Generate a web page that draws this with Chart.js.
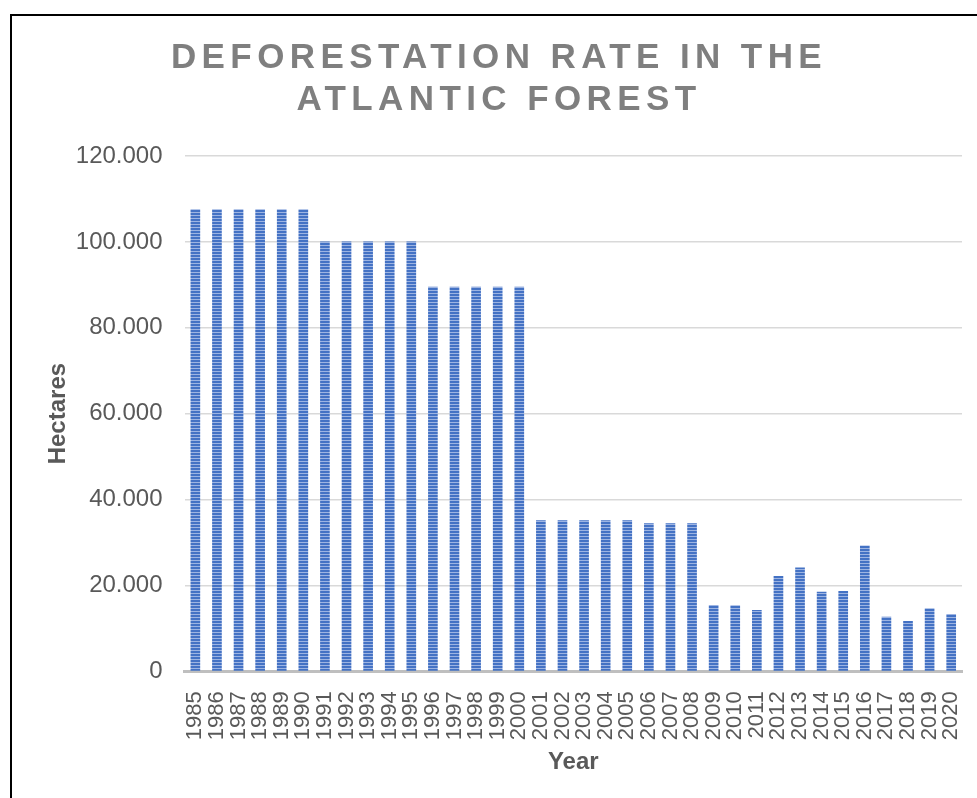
<!DOCTYPE html>
<html>
<head>
<meta charset="utf-8">
<script src="https://cdn.jsdelivr.net/npm/chart.js@4.4.1/dist/chart.umd.min.js"></script>
<style>
  body { margin: 0; background: #fff; overflow: hidden; }
  #wrap { position: relative; width: 977px; height: 798px; }
  #frame {
    position: absolute; left: 10px; top: 14px; width: 1000px; height: 1000px;
    border-left: 2px solid #000; border-top: 2px solid #000; pointer-events: none;
  }
  #chart { position: absolute; left: 0; top: 0; }
</style>
</head>
<body>
<div id="wrap">
  <div id="frame"></div>
  <canvas id="chart" width="977" height="798"></canvas>
</div>
<script>
"use strict";

const years = [
  "1985", "1986", "1987", "1988", "1989", "1990", "1991", "1992", "1993",
  "1994", "1995", "1996", "1997", "1998", "1999", "2000", "2001", "2002",
  "2003", "2004", "2005", "2006", "2007", "2008", "2009", "2010", "2011",
  "2012", "2013", "2014", "2015", "2016", "2017", "2018", "2019", "2020",
];
const hectares = [
  107500, 107500, 107500, 107500, 107500, 107500,
  100000, 100000, 100000, 100000, 100000,
  89500, 89500, 89500, 89500, 89500,
  35100, 35100, 35100, 35100, 35100,
  34400, 34400, 34400,
  15350, 15300, 14200, 22100, 24100, 18450, 18600, 29200,
  12600, 11600, 14600, 13250,
];
const yTicks = [0, 20000, 40000, 60000, 80000, 100000, 120000];

// striped fill like the original bars
function stripes() {
  const c = document.createElement("canvas");
  c.width = 4;
  c.height = 3;
  const g = c.getContext("2d");
  g.fillStyle = "#4472c4";
  g.fillRect(0, 0, 4, 2);
  g.fillStyle = "#9db4e2";
  g.fillRect(0, 2, 4, 1);
  return g.createPattern(c, "repeat");
}

const font = "'Liberation Sans', Arial, sans-serif";
const grey = "#595959";

const chart = new Chart(document.getElementById("chart"), {
  type: "bar",
  data: {
    labels: years,
    datasets: [
      {
        data: hectares,
        backgroundColor: stripes(),
        borderWidth: 0,
        barThickness: 9,
      },
    ],
  },
  options: {
    responsive: false,
    animation: false,
    layout: { padding: { left: 0, right: -21, top: 0, bottom: 14 } },
    plugins: {
      legend: { display: false },
      tooltip: { enabled: false },
      title: {
        display: true,
        text: ["DEFORESTATION RATE IN THE", "ATLANTIC FOREST"],
        color: "#7f7f7f",
        font: { family: font, size: 35, weight: "bold", lineHeight: 1.2 },
        padding: { top: 37, bottom: 35 },
      },
    },
    scales: {
      x: {
        // keep the plot reaching close to the right edge
        afterFit: (scale) => {
          scale.paddingRight = 15;
        },
        grid: { display: false, drawTicks: false },
        border: { color: "#bfbfbf", width: 3 },
        ticks: {
          color: grey,
          font: { family: font, size: 22 },
          minRotation: 90,
          maxRotation: 90,
          autoSkip: false,
          padding: 20,
        },
        title: {
          display: true,
          text: "Year",
          color: grey,
          font: { family: font, size: 24, weight: "bold" },
          padding: { top: -12, bottom: 7 },
        },
      },
      y: {
        min: 0,
        max: 120000,
        afterBuildTicks: (axis) => {
          axis.ticks = yTicks.map((v) => ({ value: v }));
        },
        grid: { color: "#d9d9d9", lineWidth: 1.5, drawTicks: false },
        border: { display: false },
        ticks: {
          color: grey,
          font: { family: font, size: 24 },
          padding: 22,
          callback: (v) => Number(v).toLocaleString("de-DE"),
        },
        title: {
          display: true,
          text: "Hectares",
          color: grey,
          font: { family: font, size: 24, weight: "bold" },
          padding: { top: 44, bottom: -19 },
        },
      },
    },
  },
});

// letter spacing on the title only
const titleBox = chart.titleBlock;
const drawTitle = titleBox.draw.bind(titleBox);
titleBox.draw = function (area) {
  const ctx = this.ctx;
  ctx.save();
  ctx.letterSpacing = "5.4px";
  drawTitle(area);
  ctx.restore();
};
chart.draw();
</script>
</body>
</html>
